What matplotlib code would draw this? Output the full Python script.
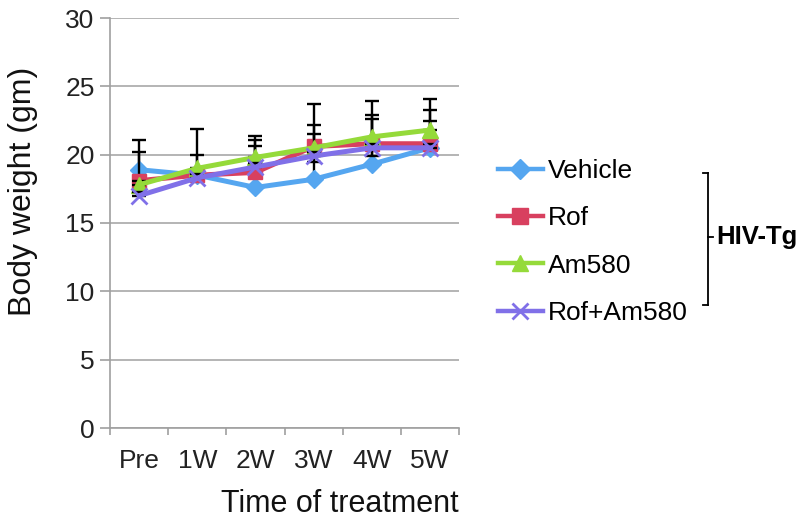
import numpy as np
import matplotlib
matplotlib.use("Agg")
import matplotlib.pyplot as plt
from matplotlib.lines import Line2D

plt.rcParams["font.family"] = ["Liberation Sans", "DejaVu Sans"]

# Data
time_points = ["Pre", "1W", "2W", "3W", "4W", "5W"]
series_names = ["Vehicle", "Rof", "Am580", "Rof+Am580"]

vehicle = [18.9, 18.5, 17.6, 18.2, 19.3, 20.5]
rof = [18.1, 18.5, 18.7, 20.6, 20.8, 20.8]
am580 = [17.8, 19.0, 19.8, 20.5, 21.3, 21.8]
rof_am580 = [17.0, 18.3, 19.1, 19.9, 20.5, 20.5]

# error bars (upper / lower)
vehicle_up = [2.2, 3.4, 3.8, 5.5, 4.6, 3.6]
vehicle_down = [0, 0, 0, 0, 0, 0]
rof_up = [2.1, 0.3, 2.4, 1.6, 2.1, 2.5]
rof_down = [0, 0, 0, 0, 0, 0]
am580_up = [0.3, 1.0, 0.8, 1.0, 1.3, 0.7]
am580_down = [0, 0, 0, 1.0, 1.4, 0]
rof_am580_up = [0.3, 0.3, 0.3, 0.3, 0.3, 0.3]
rof_am580_down = [0, 0, 0, 0, 0, 0]

values = [vehicle, rof, am580, rof_am580]
err_up = [vehicle_up, rof_up, am580_up, rof_am580_up]
err_down = [vehicle_down, rof_down, am580_down, rof_am580_down]
colors = ["#55A6F0", "#D8405F", "#95DA3A", "#8070E8"]
markers = ["D", "s", "^", "x"]
msizes = [9, 10, 11, 11]

fig = plt.figure(figsize=(8.05, 5.23), dpi=100)
ax = fig.add_axes([110 / 805, 1 - 428 / 523, 349 / 805, 410 / 523])

x = np.arange(len(time_points))
for i, name in enumerate(series_names):
    ax.errorbar(x, values[i], yerr=[err_down[i], err_up[i]], fmt="none",
                ecolor="black", elinewidth=1.7, capsize=5, capthick=1.7,
                zorder=3 + i)
    ax.plot(x, values[i], color=colors[i], marker=markers[i], markersize=msizes[i],
            markeredgewidth=2 if markers[i] == "x" else 1,
            markeredgecolor=colors[i], linewidth=3.6, label=name, zorder=3.5 + i)

ax.set_ylim(0, 30)
ax.set_xlim(-0.5, len(time_points) - 0.5)
ax.set_yticks(range(0, 31, 5))
ax.set_xticks(x)
ax.set_xticklabels(time_points)
ax.set_xticks(np.arange(-0.5, len(time_points)), minor=True)

ax.grid(axis="y", color="#A8A8A8", linewidth=1.2)
ax.set_axisbelow(True)
for s in ["top", "right"]:
    ax.spines[s].set_visible(False)
for s in ["left", "bottom"]:
    ax.spines[s].set_color("#A0A0A0")
    ax.spines[s].set_linewidth(1.2)

ax.tick_params(axis="y", length=7, width=1.2, color="#A0A0A0", pad=4,
               labelsize=19, labelcolor="#222222")
ax.tick_params(axis="x", which="major", length=0, pad=15, labelsize=19,
               labelcolor="#222222")
ax.tick_params(axis="x", which="minor", length=5, width=1.2, color="#A0A0A0")

ax.set_ylabel("Body weight (gm)", fontsize=23, color="#111111")
ax.yaxis.set_label_coords(-0.205, 0.578)
ax.set_xlabel("Time of treatment", fontsize=22, color="#111111", loc="right",
              labelpad=12)

handles = [Line2D([], [], color=colors[i], marker=markers[i], markersize=msizes[i] + 1,
                  markeredgewidth=2 if markers[i] == "x" else 1,
                  markeredgecolor=colors[i], linewidth=3.2) for i in range(4)]
fig.legend(handles, series_names, loc="center left",
           bbox_to_anchor=(498 / 805, 1 - 242 / 523), frameon=False,
           fontsize=19, handlelength=1.7, handletextpad=0.2,
           labelspacing=0.88, borderpad=0, borderaxespad=0)

# bracket grouping the legend entries
def px(xp, yp):
    return xp / 805, 1 - yp / 523

for (x0, y0), (x1, y1) in [((703, 173), (708, 173)), ((708, 173), (708, 305)),
                           ((703, 305), (708, 305)), ((708, 237), (713, 237))]:
    a, b = px(x0, y0)
    c, d = px(x1, y1)
    fig.add_artist(Line2D([a, c], [b, d], color="black", linewidth=1.3))
tx, ty = px(716, 237)
fig.text(tx, ty, "HIV-Tg", fontsize=18.5, fontweight="bold", va="center", ha="left")

fig.savefig("out.png", dpi=100)
